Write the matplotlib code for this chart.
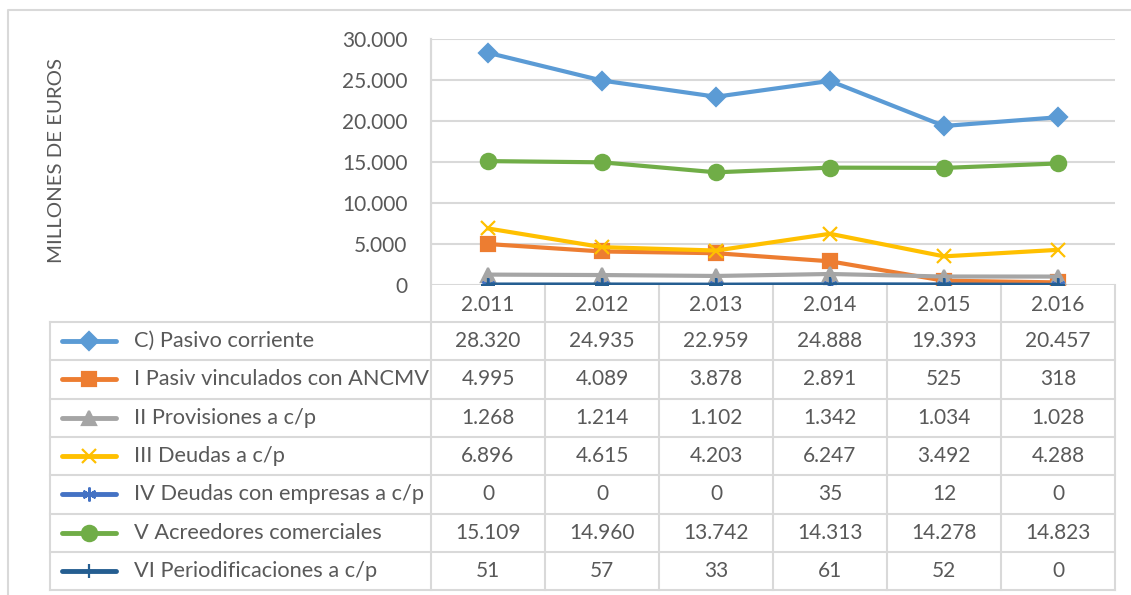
import matplotlib.pyplot as plt
import numpy as np

plt.rcParams['font.family'] = ['Lato', 'DejaVu Sans']

# datos
years = ["2.011", "2.012", "2.013", "2.014", "2.015", "2.016"]
names = [
    "C) Pasivo corriente",
    "I Pasiv vinculados con ANCMV",
    "II Provisiones a c/p",
    "III Deudas a c/p",
    "IV Deudas con empresas a c/p",
    "V Acreedores comerciales",
    "VI Periodificaciones a c/p",
]
pasivo_corriente = [28320, 24935, 22959, 24888, 19393, 20457]
pasiv_ancmv = [4995, 4089, 3878, 2891, 525, 318]
provisiones = [1268, 1214, 1102, 1342, 1034, 1028]
deudas = [6896, 4615, 4203, 6247, 3492, 4288]
deudas_empresas = [0, 0, 0, 35, 12, 0]
acreedores = [15109, 14960, 13742, 14313, 14278, 14823]
periodificaciones = [51, 57, 33, 61, 52, 0]

series = [pasivo_corriente, pasiv_ancmv, provisiones, deudas,
          deudas_empresas, acreedores, periodificaciones]
colors = ["#5B9BD5", "#ED7D31", "#A5A5A5", "#FFC000", "#4472C4", "#70AD47", "#255E91"]
markers = ["D", "s", "^", "x", (6, 2, 0), "o", "+"]
msizes = [9.5, 9.5, 10, 10, 10, 11, 10]

W, H = 1131, 595
txt = "#595959"
grid = "#D9D9D9"
num_fs = 15
lab_fs = 15.7


def fmt(v):
    return f"{v:,}".replace(",", ".")


fig = plt.figure(figsize=(W / 100, H / 100), dpi=100)

# capa para la tabla de datos (coordenadas en pixeles)
tab = fig.add_axes([0, 0, 1, 1])
tab.set_xlim(0, W)
tab.set_ylim(H, 0)
tab.axis("off")

# borde del grafico
tab.plot([8, 8, W], [H, 10, 10], color=grid, lw=1.5)

# geometria de la tabla
x_left, x_plot, x_right = 50, 431, 1115
col_w = (x_right - x_plot) / len(years)
y_axis, y_top, row_h = 285, 322, 38.3
y_bottom = y_top + row_h * len(names)

for i in range(len(names) + 1):
    y = y_top + i * row_h
    tab.plot([x_left, x_right], [y, y], color=grid, lw=1.5)
tab.plot([x_left, x_left], [y_top, y_bottom], color=grid, lw=1.5)
for j in range(len(years) + 1):
    x = x_plot + j * col_w
    tab.plot([x, x], [39 if j == 0 else y_axis, y_bottom], color=grid, lw=1.5)

for i, (name, vals) in enumerate(zip(names, series)):
    yc = y_top + (i + 0.5) * row_h
    tab.plot([62, 116], [yc, yc], color=colors[i], lw=3.5, solid_capstyle="round")
    tab.plot([89], [yc], marker=markers[i], color=colors[i], ms=msizes[i],
             mew=1.6, linestyle="none")
    tab.text(134, yc, name, ha="left", va="center", fontsize=lab_fs, color=txt)
    for j, v in enumerate(vals):
        tab.text(x_plot + (j + 0.5) * col_w, yc, fmt(v), ha="center",
                 va="center", fontsize=num_fs, color=txt)

# grafico de lineas
ax = fig.add_axes([x_plot / W, 1 - y_axis / H, (x_right - x_plot) / W, (y_axis - 39) / H])
ax.patch.set_alpha(0)
x = np.arange(len(years))
for i, vals in enumerate(series):
    ax.plot(x, vals, color=colors[i], lw=3, marker=markers[i], ms=msizes[i],
            mew=1.6, zorder=3 + i)

ax.set_xlim(-0.5, len(years) - 0.5)
ax.set_ylim(0, 30000)
ax.set_yticks(range(0, 30001, 5000))
ax.set_yticklabels([fmt(v) for v in range(0, 30001, 5000)])
ax.set_xticks(x)
ax.set_xticklabels(years)
ax.tick_params(length=0, labelsize=num_fs, colors=txt)
ax.tick_params(axis="y", pad=17)
ax.tick_params(axis="x", pad=7)
ax.grid(axis="y", color=grid, lw=1.5)
ax.set_axisbelow(True)
for s in ["top", "right", "bottom"]:
    ax.spines[s].set_visible(False)
ax.spines["left"].set_color(grid)
ax.spines["left"].set_linewidth(1.5)

fig.text(57 / W, 1 - 161 / H, "MILLONES DE EUROS", rotation=90, ha="center",
         va="center", fontsize=14.7, color=txt)

fig.savefig("out.png", dpi=100)
